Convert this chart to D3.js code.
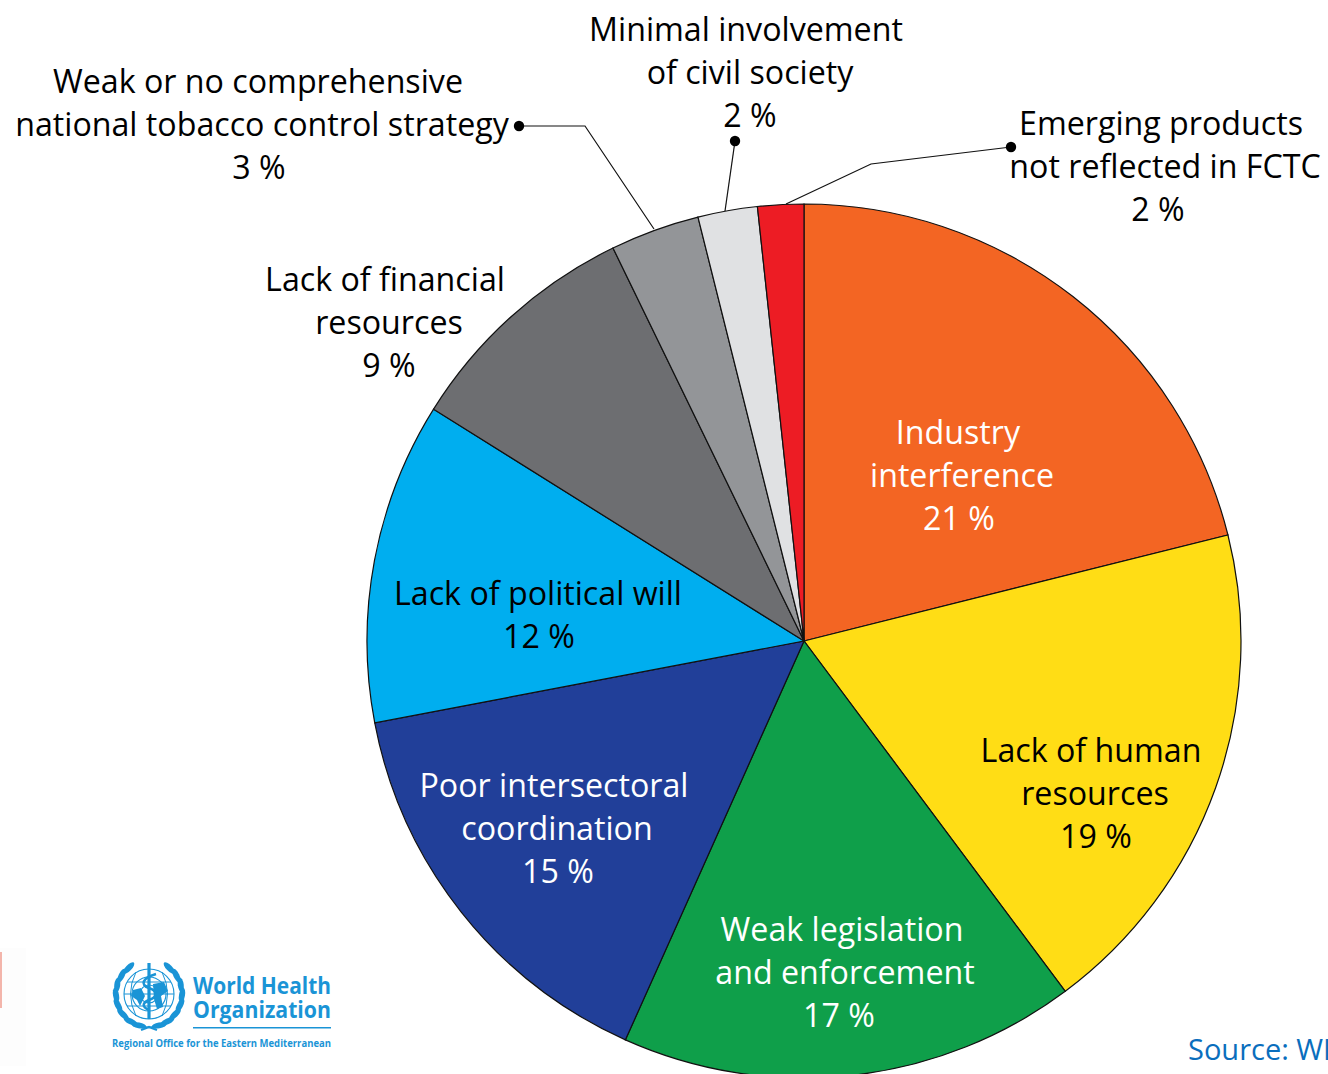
<!DOCTYPE html>
<html>
<head>
<meta charset="utf-8">
<script src="https://cdn.jsdelivr.net/npm/d3@7"></script>
<style>
html, body { margin: 0; padding: 0; background: #fff; overflow: hidden; }
text { font-family: "Open Sans", sans-serif; }
</style>
</head>
<body>
<svg id="chart" width="1328" height="1074"></svg>
<script>
var names = ["Industry interference", "Lack of human resources", "Weak legislation and enforcement",
  "Poor intersectoral coordination", "Lack of political will", "Lack of financial resources",
  "Weak or no comprehensive national tobacco control strategy", "Minimal involvement of civil society",
  "Emerging products not reflected in FCTC"];
// slice sizes as drawn in the picture (they differ a little from the printed percents)
var values = [21.1, 18.7, 16.9, 15.3, 11.9, 8.9, 3.3, 2.2, 1.7];
var colors = ["#f36523", "#ffdd15", "#0f9f4a", "#213f99", "#00aeef", "#6d6e71", "#939598", "#e0e1e3", "#ed1c24"];

var labelLines = [
  ["Industry", "interference", "21 %"],
  ["Lack of human", "resources", "19 %"],
  ["Weak legislation", "and enforcement", "17 %"],
  ["Poor intersectoral", "coordination", "15 %"],
  ["Lack of political will", "12 %"],
  ["Lack of financial", "resources", "9 %"],
  ["Weak or no comprehensive", "national tobacco control strategy", "3 %"],
  ["Minimal involvement", "of civil society", "2 %"],
  ["Emerging products", "not reflected in FCTC", "2 %"]
];
var labelColors = ["#fff", "#000", "#fff", "#fff", "#000", "#000", "#000", "#000", "#000"];
// centre x of each label line, top line baseline y
var labelX = [[958, 962, 959], [1091, 1095, 1096], [842, 845, 839], [554, 557, 558], [538, 539],
  [385, 389, 389], [258, 262, 259], [746, 750, 750], [1161, 1165, 1158]];
var labelY = [443.8, 761.8, 940.8, 796.8, 604.8, 290.8, 92.8, 40.8, 134.8];

var cx = 804, cy = 641, r = 437;

var svg = d3.select("#chart");

// faint remains of the slide edge on the left
svg.append("rect").attr("x", 0).attr("y", 948).attr("width", 26).attr("height", 118).attr("fill", "#fdfdfd");
svg.append("rect").attr("x", 0).attr("y", 952).attr("width", 2).attr("height", 56).attr("fill", "#f3b5ab");

var pie = d3.pie().sort(null).value(function(d) { return d; });
var arc = d3.arc().innerRadius(0).outerRadius(r);

svg.append("g")
  .attr("transform", "translate(" + cx + "," + cy + ")")
  .selectAll("path")
  .data(pie(values))
  .enter().append("path")
  .attr("d", arc)
  .attr("fill", function(d, i) { return colors[i]; })
  .attr("stroke", "#111")
  .attr("stroke-width", 1.2);

// leader lines
var leaders = [
  [[519, 126], [585, 126], [654, 229]],
  [[735, 141], [725, 211]],
  [[1011, 147], [871, 164], [786, 204]]
];
var line = d3.line();
leaders.forEach(function(pts) {
  svg.append("path").attr("d", line(pts)).attr("fill", "none").attr("stroke", "#111").attr("stroke-width", 1.2);
  svg.append("circle").attr("cx", pts[0][0]).attr("cy", pts[0][1]).attr("r", 5.2).attr("fill", "#000");
});

labelLines.forEach(function(lines, i) {
  lines.forEach(function(t, j) {
    svg.append("text")
      .attr("x", labelX[i][j])
      .attr("y", labelY[i] + j * 43.2)
      .attr("text-anchor", "middle")
      .attr("font-size", 32.2)
      .attr("fill", labelColors[i])
      .text(t);
  });
});

// logo block
var blue = "#1a94d6";
var logo = svg.append("g").attr("fill", blue);
var emblem = logo.append("g").attr("transform", "translate(149,994)").attr("fill", "none").attr("stroke", blue);
[25, 17, 9].forEach(function(ro) {
  emblem.append("circle").attr("r", ro).attr("stroke-width", 1.1);
});
emblem.append("path").attr("stroke-width", 1).attr("d", "M-25 0H25M0 -25V25M-22 -12H22M-22 12H22");
emblem.append("path").attr("stroke-width", 1).attr("d", "M-13 -22Q-24 0 -13 22M13 -22Q24 0 13 22");
// land masses
emblem.append("path").attr("fill", blue).attr("stroke", "none").attr("d", "M-16 -4L-8 -6L-4 2L-9 12L-12 6L-18 2Z");
emblem.append("path").attr("fill", blue).attr("stroke", "none").attr("d", "M4 -10L15 -12L19 -3L12 2L14 13L8 15L5 5Z");
// staff and snake
emblem.append("path").attr("stroke-width", 3.2).attr("d", "M0 -31V25");
emblem.append("path").attr("stroke-width", 2.6).attr("d", "M7 -20C-7 -16 -9 -9 0 -6C9 -3 9 3 0 6C-7 9 -7 13 0 16");
// wreath: leaves along both sides
var leafAngles = [-52, -34, -16, 2, 20, 38, 56, 72];
[-1, 1].forEach(function(side) {
  leafAngles.forEach(function(a) {
    var t = a * Math.PI / 180;
    var lx = side * 33 * Math.cos(t), ly = 33 * Math.sin(t);
    emblem.append("ellipse")
      .attr("rx", 3).attr("ry", 7.5)
      .attr("fill", blue).attr("stroke", "none")
      .attr("transform", "translate(" + lx + "," + ly + ") rotate(" + (side * (a + 8)) + ")");
  });
});
emblem.append("path").attr("stroke-width", 2.2).attr("d", "M-16 31Q0 36 16 31M-8 36L0 33L8 36");

logo.append("text").attr("x", 193).attr("y", 994).attr("font-size", 24).attr("font-weight", 700).attr("textLength", 138).attr("lengthAdjust", "spacingAndGlyphs").text("World Health");
logo.append("text").attr("x", 193).attr("y", 1018).attr("font-size", 24).attr("font-weight", 700).attr("textLength", 138).attr("lengthAdjust", "spacingAndGlyphs").text("Organization");
logo.append("rect").attr("x", 193).attr("y", 1027).attr("width", 138).attr("height", 1.5);
logo.append("text").attr("x", 112).attr("y", 1047).attr("font-size", 11).attr("font-weight", 700).attr("textLength", 219).attr("lengthAdjust", "spacingAndGlyphs").text("Regional Office for the Eastern Mediterranean");

svg.append("text").attr("x", 1188).attr("y", 1060).attr("font-size", 29).attr("fill", "#0a6ebd").text("Source: WHO");
</script>
</body>
</html>
